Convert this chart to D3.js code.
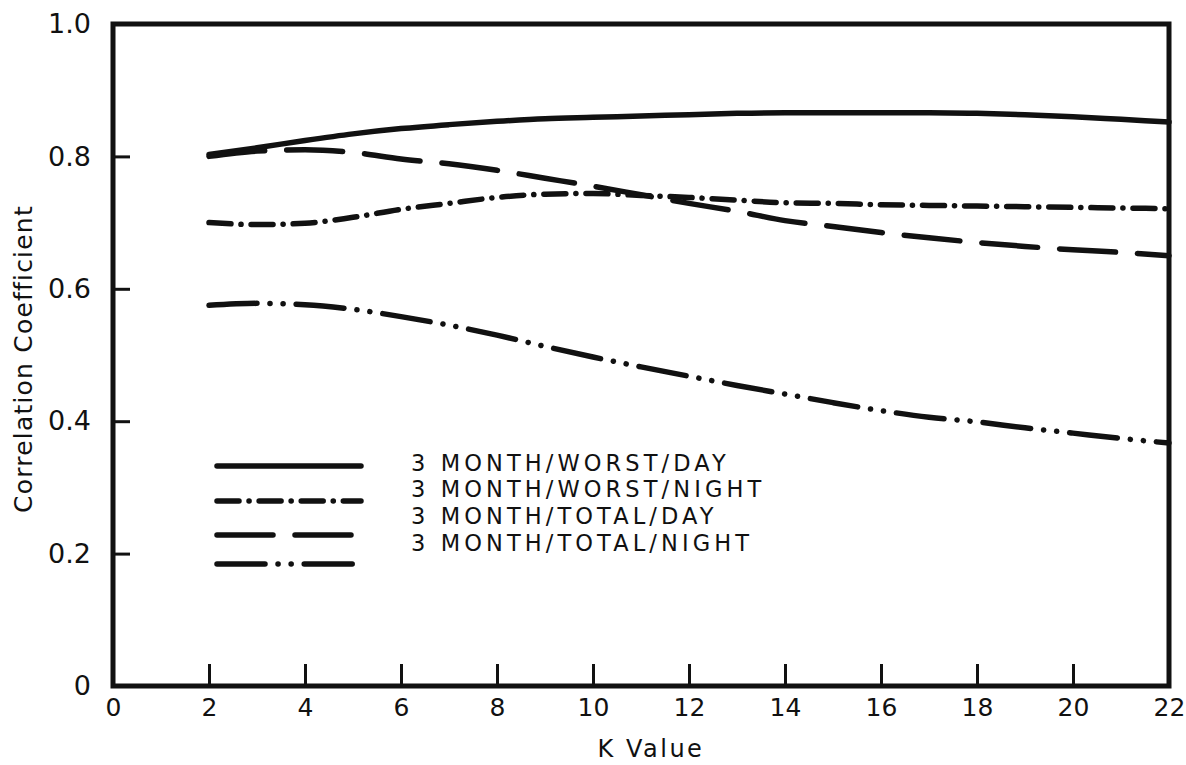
<!DOCTYPE html>
<html>
<head>
<meta charset="utf-8">
<script src="https://cdn.jsdelivr.net/npm/d3@7"></script>
<style>
html,body{margin:0;padding:0;background:#fff;}
text{font-family:"DejaVu Sans",Arial,sans-serif;fill:#111;}
</style>
</head>
<body>
<svg id="chart" width="1186" height="765"></svg>
<script>
// ---- data ----
const kValues = [2,3,4,5,6,7,8,9,10,11,12,13,14,15,16,17,18,19,20,21,22];
const worstDay   = [0.803,0.813,0.824,0.834,0.842,0.848,0.853,0.857,0.859,0.861,0.863,0.865,0.866,0.866,0.866,0.866,0.865,0.863,0.860,0.856,0.852];
const worstNight = [0.700,0.697,0.699,0.708,0.720,0.729,0.738,0.743,0.744,0.741,0.738,0.734,0.730,0.729,0.727,0.726,0.725,0.724,0.723,0.722,0.721];
const totalDay   = [0.800,0.808,0.810,0.806,0.796,0.789,0.779,0.767,0.755,0.742,0.729,0.717,0.703,0.694,0.685,0.677,0.670,0.664,0.659,0.655,0.650];
const totalNight = [0.575,0.578,0.576,0.569,0.558,0.545,0.530,0.513,0.497,0.482,0.468,0.454,0.441,0.428,0.416,0.406,0.399,0.390,0.382,0.374,0.367];
const seriesNames = ["3 MONTH/WORST/DAY","3 MONTH/WORST/NIGHT","3 MONTH/TOTAL/DAY","3 MONTH/TOTAL/NIGHT"];
const xTickValues = [0,2,4,6,8,10,12,14,16,18,20,22];
const xTickLabels = ["0","2","4","6","8","10","12","14","16","18","20","22"];
const yTickValues = [0,0.2,0.4,0.6,0.8,1.0];
const yTickLabels = ["0","0.2","0.4","0.6","0.8","1.0"];
const xTitle = "K Value";
const yTitle = "Correlation Coefficient";

// ---- drawing ----
const svg = d3.select("#chart");
const ink = "#111";
const FONT = "'DejaVu Sans',Arial,sans-serif";
const x = d3.scaleLinear().domain([0,22]).range([113,1169]);
const y = d3.scaleLinear().domain([0,1]).range([686,24]);

const series = [worstDay, worstNight, totalDay, totalNight];
const dashes = [null, "22,10,0.1,10", "56,22", "48,13,0.1,13,0.1,13"];

// frame
svg.append("path")
  .attr("d", `M${x(0)},${y(1)}H${x(22)}V${y(0)}H${x(0)}Z`)
  .attr("fill","none").attr("stroke",ink).attr("stroke-width",5)
  .attr("stroke-linejoin","miter");

// x axis ticks (pointing inward)
const xAxis = d3.axisBottom(x)
  .tickValues(xTickValues)
  .tickSize(-22).tickPadding(12)
  .tickFormat((d,i) => xTickLabels[i]);
const gx = svg.append("g").attr("transform",`translate(0,${y(0)})`).call(xAxis);
gx.select(".domain").remove();
gx.selectAll(".tick line").attr("stroke",ink).attr("stroke-width",3)
  .filter(d => d===0 || d===22).remove();
gx.selectAll(".tick text").attr("font-size",25).style("font-family",FONT).attr("fill",ink);

// y axis ticks
const yAxis = d3.axisLeft(y)
  .tickValues(yTickValues)
  .tickSize(-17).tickPadding(22)
  .tickFormat((d,i) => yTickLabels[i]);
const gy = svg.append("g").attr("transform",`translate(${x(0)},0)`).call(yAxis);
gy.select(".domain").remove();
gy.selectAll(".tick line").attr("stroke",ink).attr("stroke-width",3)
  .filter(d => d===0 || d===1).remove();
gy.selectAll(".tick text").attr("font-size",27)
  .style("font-family",FONT).attr("fill",ink);

// axis titles
svg.append("text")
  .attr("transform",`translate(32,${(y(0)+y(1))/2+4}) rotate(-90)`)
  .attr("text-anchor","middle").attr("font-size",25).attr("letter-spacing",1.2)
  .text(yTitle);
svg.append("text")
  .attr("x",651).attr("y",757).attr("text-anchor","middle")
  .attr("font-size",24).attr("letter-spacing",2.5)
  .text(xTitle);

// series lines
const line = d3.line()
  .x((d,i) => x(kValues[i]))
  .y(d => y(d))
  .curve(d3.curveMonotoneX);

series.forEach((vals,si) => {
  const p = svg.append("path")
    .attr("d", line(vals))
    .attr("fill","none").attr("stroke",ink).attr("stroke-width",5.5)
    .attr("stroke-linecap","round").attr("stroke-linejoin","round");
  if (dashes[si]) p.attr("stroke-dasharray", dashes[si]);
});

// legend
const legendLineY = [466, 501, 535, 564];
const legendTextY = [471, 497, 524, 551];
seriesNames.forEach((name,si) => {
  const p = svg.append("path")
    .attr("d", d3.line()([[217,legendLineY[si]],[361,legendLineY[si]]]))
    .attr("fill","none").attr("stroke",ink).attr("stroke-width",5.5)
    .attr("stroke-linecap","round");
  if (dashes[si]) p.attr("stroke-dasharray", dashes[si]);
  svg.append("text")
    .attr("x",411).attr("y",legendTextY[si])
    .attr("font-size",22.5).attr("letter-spacing",4.1)
    .text(name);
});
</script>
</body>
</html>
